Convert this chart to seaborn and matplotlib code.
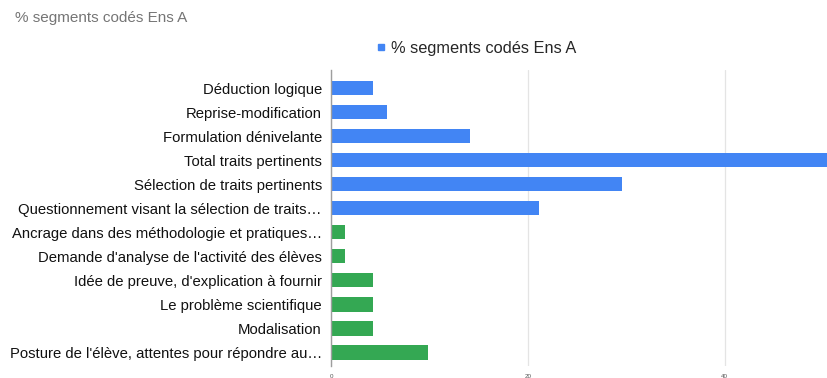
import matplotlib
matplotlib.use("Agg")
import matplotlib.pyplot as plt
from matplotlib.lines import Line2D
import seaborn as sns
import pandas as pd

# Data: share of coded segments (%) per category, teacher A
categories = [
    "Déduction logique",
    "Reprise-modification",
    "Formulation dénivelante",
    "Total traits pertinents",
    "Sélection de traits pertinents",
    "Questionnement visant la sélection de traits…",
    "Ancrage dans des méthodologie et pratiques…",
    "Demande d'analyse de l'activité des élèves",
    "Idée de preuve, d'explication à fournir",
    "Le problème scientifique",
    "Modalisation",
    "Posture de l'élève, attentes pour répondre au…",
]
values = [4.23, 5.63, 14.08, 50.70, 29.58, 21.13, 1.41, 1.41, 4.23, 4.23, 4.23, 9.86]
groups = ["A"] * 6 + ["B"] * 6
series_name = "% segments codés Ens A"
x_ticks = [0, 20, 40]

BLUE = "#4285F4"
GREEN = "#34A853"

df = pd.DataFrame({"cat": categories, "val": values, "grp": groups})

sns.set_theme(style="white")
plt.rcParams["font.family"] = ["Liberation Sans", "DejaVu Sans"]

fig = plt.figure(figsize=(8.28, 3.78), dpi=100)
ax = fig.add_axes([331.5 / 828, 1 - 366 / 378, 1 - 331.5 / 828, (366 - 70) / 378])

sns.barplot(
    data=df, y="cat", x="val", hue="grp", palette={"A": BLUE, "B": GREEN},
    orient="h", width=0.62, dodge=False, legend=False, ax=ax,
    saturation=1, edgecolor="none", zorder=3,
)

ax.set_xlim(0, 50.5)
ax.set_ylim(11.58, -0.75)
ax.set_xticks(x_ticks)
ax.set_xticklabels([str(t) for t in x_ticks], fontsize=4.5, color="#555555")
ax.tick_params(axis="x", length=0, pad=6)
ax.tick_params(axis="y", length=0, pad=7, labelsize=10.7, labelcolor="#111111")
ax.set_xlabel("")
ax.set_ylabel("")
ax.grid(axis="x", color="#e4e4e4", linewidth=0.9, zorder=0)
for s in ["top", "right", "bottom"]:
    ax.spines[s].set_visible(False)
ax.spines["left"].set_color("#9e9e9e")
ax.spines["left"].set_linewidth(1.0)
ax.spines["left"].set_zorder(4)

fig.text(15 / 828, 1 - 18 / 378, series_name, fontsize=11, color="#757575",
         ha="left", va="center")

handle = Line2D([], [], marker="s", linestyle="none", markersize=4.2,
                markerfacecolor=BLUE, markeredgecolor=BLUE)
fig.legend([handle], [series_name], loc="center", bbox_to_anchor=(476 / 828, 1 - 48 / 378),
           frameon=False, fontsize=11.8, handletextpad=0.25, handlelength=0.7,
           borderaxespad=0)

fig.savefig("out.png", dpi=100)
